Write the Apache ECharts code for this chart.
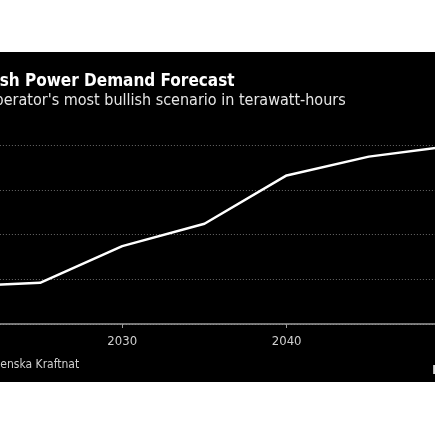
<!DOCTYPE html>
<html>
<head>
<meta charset="utf-8">
<script src="https://cdn.jsdelivr.net/npm/echarts@6/dist/echarts.min.js"></script>
<style>
  html, body { margin: 0; padding: 0; background: #fff; overflow: hidden; width: 435px; height: 435px; }
  #chart { position: absolute; left: -60px; top: 52px; width: 560px; height: 330px; background: #000; }
</style>
</head>
<body>
<div id="chart"></div>
<script>
// Svenska Kraftnat, most bullish scenario (TWh)
const years = [2020, 2025, 2030, 2035, 2040, 2045, 2050];
const demand = [142, 146, 187, 212, 266, 287, 299];
const yTicks = [100, 150, 200, 250, 300];

const chart = echarts.init(document.getElementById('chart'));
const font = 'DejaVu Sans Condensed';

chart.setOption({
    backgroundColor: '#000',
    animation: false,
    title: [
        {
            text: 'Swedish Power Demand Forecast',
            left: 3,
            top: 16,
            textStyle: { color: '#fff', fontFamily: font, fontSize: 17, fontWeight: 'bold' }
        },
        {
            text: "Grid operator's most bullish scenario in terawatt-hours",
            left: 6,
            top: 36,
            textStyle: { color: '#e6e6e6', fontFamily: font, fontSize: 16, fontWeight: 'normal' }
        }
    ],
    graphic: [
        {
            type: 'text',
            x: 3,
            y: 307,
            style: { text: 'Source: Svenska Kraftnat', fill: '#cfcfcf', font: '12px "DejaVu Sans Condensed"' }
        },
        {
            type: 'text',
            x: 492,
            y: 312,
            style: { text: 'Bloomberg', fill: '#ddd', font: 'bold 13px "DejaVu Sans"' }
        }
    ],
    grid: { left: 16, right: 49, top: 93, bottom: 58 },
    xAxis: {
        type: 'value',
        min: 2020,
        max: 2050,
        interval: 10,
        axisLine: { show: true, lineStyle: { color: '#9a9a9a', width: 1.5 } },
        axisTick: { show: true, length: 4, lineStyle: { color: '#9a9a9a' } },
        axisLabel: { color: '#cfcfcf', fontFamily: font, fontSize: 13, margin: 11, formatter: v => String(v) },
        splitLine: { show: false }
    },
    yAxis: {
        type: 'value',
        position: 'right',
        min: yTicks[0],
        max: yTicks[yTicks.length - 1],
        interval: 50,
        axisLine: { show: false },
        axisTick: { show: false },
        axisLabel: { color: '#cfcfcf', fontFamily: font, fontSize: 13, margin: 6 },
        splitLine: { show: true, lineStyle: { color: '#6a6a6a', type: [1, 2], width: 1 } }
    },
    series: [{
        type: 'line',
        data: years.map((y, i) => [y, demand[i]]),
        showSymbol: false,
        lineStyle: { color: '#fff', width: 2.5 },
        itemStyle: { color: '#fff' }
    }]
});
</script>
</body>
</html>
